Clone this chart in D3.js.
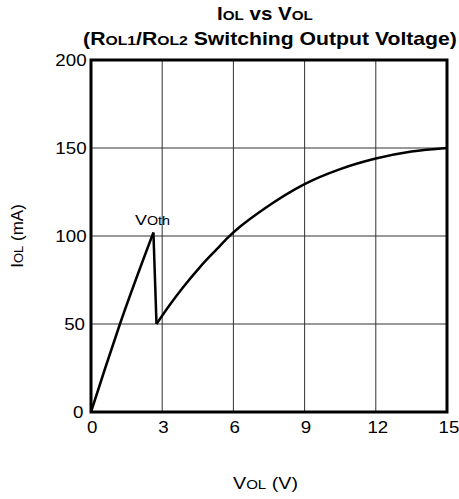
<!DOCTYPE html>
<html>
<head>
<meta charset="utf-8">
<script src="https://cdn.jsdelivr.net/npm/d3@7"></script>
<style>
  body { margin: 0; background: #fff; }
  text { font-family: "Liberation Sans", Arial, sans-serif; }
</style>
</head>
<body>
<div id="chart"></div>
<script>
// values
var xTicks = [0, 3, 6, 9, 12, 15];
var yTicks = [0, 50, 100, 150, 200];
// rising part up to VOth
var volUp = [0, 0.6, 1.22, 2.63];
var iolUp = [0, 25, 50, 102];
// drop after the switch
var volDrop = [2.63, 2.76];
var iolDrop = [102, 50];
// second curve, ROL2
var volRise = [2.76, 3.3, 3.89, 4.6, 5.3, 5.8, 6.3, 7.3, 9.0, 10.5, 12.0, 13.5, 15.0];
var iolRise = [50, 60.5, 71, 82.5, 92.5, 99.5, 105.5, 115.5, 129.5, 138, 144, 148, 150];

var width = 459, height = 499;
var margin = {top: 60, right: 12, bottom: 87, left: 91};
var k = 1.17; // the picture's text is a bit wide

var x = d3.scaleLinear().domain([0, 15]).range([margin.left, width - margin.right]);
var y = d3.scaleLinear().domain([0, 200]).range([height - margin.bottom, margin.top]);

var svg = d3.select("#chart").append("svg")
  .attr("width", width)
  .attr("height", height);

// widen a text around its anchor
var stretch = function(sel, f) {
  sel.each(function() {
    var b = this.getBBox();
    var anchor = d3.select(this).attr("text-anchor") || "start";
    var ax = anchor == "middle" ? b.x + b.width / 2 : (anchor == "end" ? b.x + b.width : b.x);
    d3.select(this).attr("transform", `translate(${ax},0) scale(${f},1) translate(${-ax},0)`);
  });
};

// fit a text to a given width
var fit = function(sel, w) {
  var b = sel.node().getBBox();
  stretch(sel, w / b.width);
};

// grid
var grid = svg.append("g").attr("stroke", "#333").attr("stroke-width", 1);
grid.selectAll(".vx").data(xTicks.slice(1, -1)).join("line")
  .attr("x1", d => x(d)).attr("x2", d => x(d))
  .attr("y1", y(200)).attr("y2", y(0));
grid.selectAll(".hy").data(yTicks.slice(1, -1)).join("line")
  .attr("y1", d => y(d)).attr("y2", d => y(d))
  .attr("x1", x(0)).attr("x2", x(15));

// axes, labels only
var xAxis = g => g
  .attr("transform", `translate(0,${y(0)})`)
  .call(d3.axisBottom(x).tickValues(xTicks).tickSize(0).tickPadding(10))
  .call(g => g.select(".domain").remove())
  .call(g => g.selectAll("text").attr("font-size", 16).attr("fill", "#000")
    .attr("font-family", "Liberation Sans, Arial, sans-serif"));

var yAxis = g => g
  .attr("transform", `translate(${x(0)},0)`)
  .call(d3.axisLeft(y).tickValues(yTicks).tickSize(0).tickPadding(9))
  .call(g => g.select(".domain").remove())
  .call(g => g.selectAll("text").attr("font-size", 16).attr("fill", "#000")
    .attr("font-family", "Liberation Sans, Arial, sans-serif"));

var gx = svg.append("g").call(xAxis);
var gy = svg.append("g").call(yAxis);
stretch(gx.selectAll("text"), k);
stretch(gy.selectAll("text"), k);

// curve
var path = function(xs, ys, curve) {
  svg.append("path")
    .attr("fill", "none").attr("stroke", "#000").attr("stroke-width", 2.5)
    .attr("d", d3.line().x((d, i) => x(xs[i])).y((d, i) => y(ys[i])).curve(curve)(xs));
};
path(volUp, iolUp, d3.curveMonotoneX);
path(volDrop, iolDrop, d3.curveLinear);
path(volRise, iolRise, d3.curveMonotoneX);

// frame
svg.append("rect")
  .attr("x", x(0)).attr("y", y(200))
  .attr("width", x(15) - x(0)).attr("height", y(0) - y(200))
  .attr("fill", "none").attr("stroke", "#000").attr("stroke-width", 3);

// text pieces, small ones for the subscripts
var label = function(parts, big, small) {
  var t = svg.append("text").attr("font-size", big).attr("fill", "#000");
  parts.forEach(function(p, i) {
    t.append("tspan").attr("font-size", i % 2 ? small : big).text(p);
  });
  return t;
};

var t1 = label(["I", "OL", " vs V", "OL"], 17.5, 13)
  .attr("x", 265).attr("y", 20).attr("text-anchor", "middle").attr("font-weight", "bold");
fit(t1, 96);

var t2 = label(["(R", "OL1", "/R", "OL2", " Switching Output Voltage)"], 17.5, 13)
  .attr("x", 270).attr("y", 45).attr("text-anchor", "middle").attr("font-weight", "bold");
fit(t2, 374);

var xl = label(["V", "OL", " (V)"], 17, 13)
  .attr("x", 265.5).attr("y", 489).attr("text-anchor", "middle");
fit(xl, 65);

var yl = label(["I", "OL", " (mA)"], 17, 13)
  .attr("transform", `translate(23,236) rotate(-90)`)
  .attr("text-anchor", "middle");

var vt = label(["V", "Oth"], 15, 12)
  .attr("x", 152.5).attr("y", 225).attr("text-anchor", "middle");
fit(vt, 35);
</script>
</body>
</html>
